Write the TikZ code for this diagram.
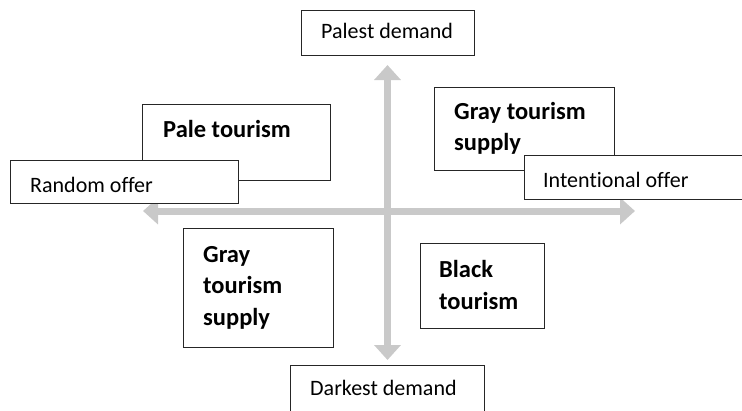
\documentclass[tikz,border=0pt]{standalone}
\usepackage{fontspec}
\setmainfont{Carlito}[Ligatures={NoCommon}]
\usetikzlibrary{arrows.meta}
\definecolor{axisgray}{HTML}{C9C9C9}
\begin{document}
\begin{tikzpicture}[x=1pt,y=-1pt,
  axis/.style={draw=axisgray,line width=7pt,
    {Triangle[width=26pt,length=15pt]}-{Triangle[width=26pt,length=15pt]}},
  box/.style={draw=black!85,line width=1.1pt,fill=white,rectangle,inner sep=0pt,anchor=north west},
  lab/.style={inner sep=0pt,anchor=base west,font=\fontsize{22}{26}\selectfont},
  blab/.style={inner sep=0pt,anchor=base west,font=\fontsize{24.5}{31}\selectfont\bfseries}
]
\useasboundingbox (0,0) rectangle (742,410);
% axes
\coordinate (vtop) at (387.5,65);
\coordinate (vbot) at (387.5,360);
\coordinate (hl) at (143,211);
\coordinate (hr) at (635,211);
\draw[axis] (vbot) -- (vtop);
\draw[axis] (hl) -- (hr);
% Palest demand
\node[box,minimum width=173pt,minimum height=45pt] (palestbox) at (301,10) {};
\node[lab] (palest) at (321,38) {Palest demand};
% Pale tourism + Random offer
\node[box,minimum width=188pt,minimum height=76pt] (palebox) at (142,104) {};
\node[blab] (pale) at (163,137) {Pale tourism};
\node[box,minimum width=228pt,minimum height=43pt] (randbox) at (10,160) {};
\node[lab] (rand) at (30,192) {Random offer};
% Gray tourism supply (top right) + Intentional offer
\node[box,minimum width=180pt,minimum height=83pt] (graytrbox) at (434,87) {};
\node[blab] (graytr) at (454,119) {\vtop{\baselineskip=31pt\lineskiplimit=-20pt\hbox{Gray tourism}\hbox{supply}}};
\node[box,minimum width=240pt,minimum height=44pt] (intbox) at (524,155) {};
\node[lab] (int) at (543,187) {Intentional offer};
% Gray tourism supply (bottom left)
\node[box,minimum width=150pt,minimum height=119pt] (grayblbox) at (183,228) {};
\node[blab] (graybl) at (203,262) {\vtop{\baselineskip=31.5pt\lineskiplimit=-20pt\hbox{Gray}\hbox{tourism}\hbox{supply}}};
% Black tourism
\node[box,minimum width=124pt,minimum height=85pt] (blackbox) at (420,243) {};
\node[blab] (black) at (439,277) {\vtop{\baselineskip=32pt\lineskiplimit=-20pt\hbox{Black}\hbox{tourism}}};
% Darkest demand
\node[box,minimum width=194pt,minimum height=60pt] (darkbox) at (290,365) {};
\node[lab] (dark) at (310,395) {Darkest demand};
\end{tikzpicture}
\end{document}
